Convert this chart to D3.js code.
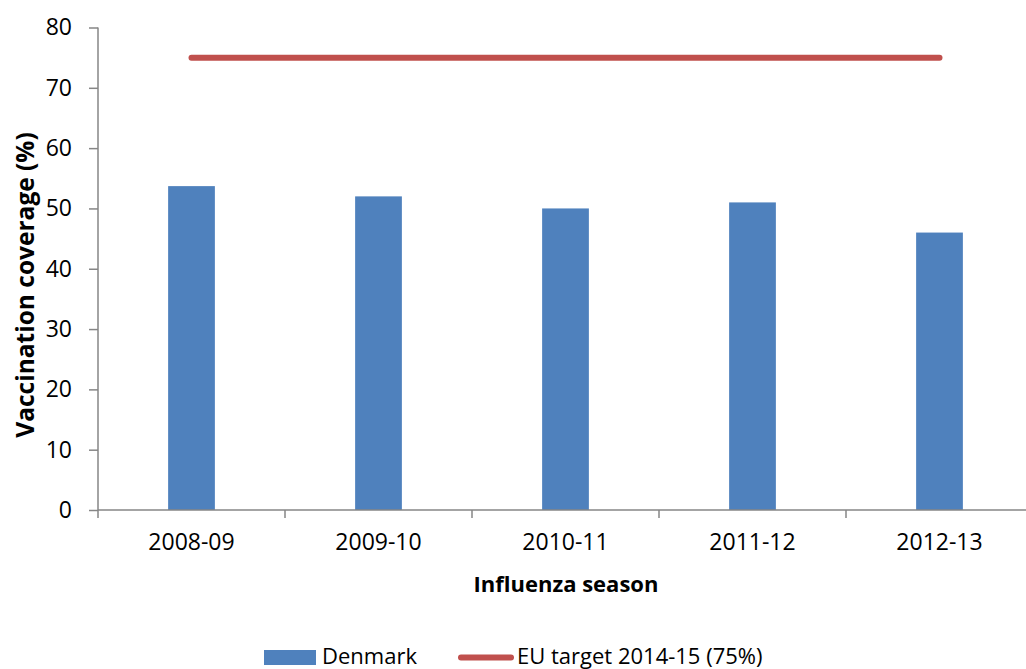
<!DOCTYPE html>
<html>
<head>
<meta charset="utf-8">
<script src="https://cdn.jsdelivr.net/npm/d3@7"></script>
<style>
  body { margin: 0; background: #fff; }
  svg text { font-family: "Open Sans", "Liberation Sans", sans-serif; fill: #000; }
</style>
</head>
<body>
<div id="chart"></div>
<script>
// data
var seasons = ["2008-09", "2009-10", "2010-11", "2011-12", "2012-13"];
var denmark = [53.7, 52, 50, 51, 46];
var euTarget = [75, 75, 75, 75, 75];
var yTicks = [0, 10, 20, 30, 40, 50, 60, 70, 80];

var width = 1026, height = 669;
var plot = {left: 98, right: 1033, top: 27.5, bottom: 510};

var svg = d3.select("#chart").append("svg")
    .attr("width", width)
    .attr("height", height);

var x = d3.scaleBand()
    .domain(seasons)
    .range([plot.left, plot.right])
    .paddingInner(0.75)
    .paddingOuter(0.375);

var y = d3.scaleLinear()
    .domain([0, 80])
    .range([plot.bottom, plot.top]);

// bars
svg.selectAll(".bar")
    .data(denmark)
    .enter().append("rect")
    .attr("class", "bar")
    .attr("x", function(d, i) { return x(seasons[i]); })
    .attr("y", function(d) { return y(d); })
    .attr("width", x.bandwidth())
    .attr("height", function(d) { return plot.bottom - y(d); })
    .attr("fill", "#4F81BD");

// target line
var line = d3.line()
    .x(function(d, i) { return x(seasons[i]) + x.bandwidth() / 2; })
    .y(function(d) { return y(d); });
svg.append("path")
    .datum(euTarget)
    .attr("d", line)
    .attr("fill", "none")
    .attr("stroke", "#C0504D")
    .attr("stroke-width", 6)
    .attr("stroke-linecap", "round");

// y axis
var yAxis = d3.axisLeft(y).tickValues(yTicks).tickSize(9).tickPadding(17);
var gy = svg.append("g")
    .attr("transform", "translate(" + plot.left + ",0)")
    .call(yAxis);
gy.selectAll("path, line").attr("stroke", "#868686").attr("stroke-width", 1.5);
gy.select(".domain").attr("d", "M0," + y(80) + "V" + plot.bottom);
gy.selectAll("text").attr("font-size", "23px").attr("font-family", null);

// x axis: line + ticks between categories
var xAxis = d3.axisBottom(x).tickSize(0).tickPadding(24);
var gx = svg.append("g")
    .attr("transform", "translate(0," + plot.bottom + ")")
    .call(xAxis);
gx.select(".domain").attr("stroke", "#868686").attr("stroke-width", 1.5)
    .attr("d", "M" + plot.left + ",0H" + plot.right);
gx.selectAll("text").attr("font-size", "23px").attr("font-family", null);
var bounds = seasons.map(function(s) { return x(s) - x.step() * 0.375; });
bounds.push(plot.right);
gx.selectAll(".sep")
    .data(bounds)
    .enter().append("line")
    .attr("class", "sep")
    .attr("x1", function(d) { return d; })
    .attr("x2", function(d) { return d; })
    .attr("y1", 0)
    .attr("y2", 8)
    .attr("stroke", "#868686")
    .attr("stroke-width", 1.5);

// axis titles
svg.append("text")
    .attr("transform", "translate(34,285) rotate(-90)")
    .attr("text-anchor", "middle")
    .attr("font-size", "24.5px")
    .attr("font-weight", "bold")
    .text("Vaccination coverage (%)");

svg.append("text")
    .attr("x", 566)
    .attr("y", 592)
    .attr("text-anchor", "middle")
    .attr("font-size", "22px")
    .attr("font-weight", "bold")
    .text("Influenza season");

// legend
var lg = svg.append("g");
lg.append("rect")
    .attr("x", 264).attr("y", 650)
    .attr("width", 52).attr("height", 15)
    .attr("fill", "#4F81BD");
lg.append("text")
    .attr("x", 322).attr("y", 664)
    .attr("font-size", "22px")
    .text("Denmark");
lg.append("line")
    .attr("x1", 461).attr("x2", 511)
    .attr("y1", 657.5).attr("y2", 657.5)
    .attr("stroke", "#C0504D")
    .attr("stroke-width", 6)
    .attr("stroke-linecap", "round");
lg.append("text")
    .attr("x", 517).attr("y", 664)
    .attr("font-size", "22px")
    .text("EU target 2014-15 (75%)");
</script>
</body>
</html>
